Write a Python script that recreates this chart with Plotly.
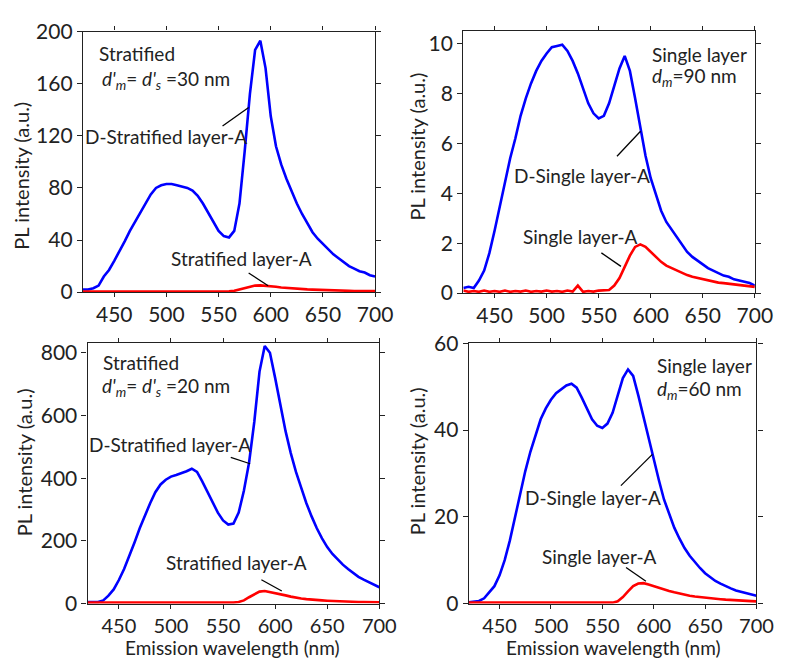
import plotly.graph_objects as go

# ---------------- data ----------------
wl = [420, 425, 430, 435, 440, 445, 450, 455, 460, 465, 470, 475, 480, 485, 490, 495,
      500, 505, 510, 515, 520, 525, 530, 535, 540, 545, 550, 555, 560, 565, 570, 575,
      580, 585, 590, 595, 600, 605, 610, 615, 620, 625, 630, 635, 640, 645, 650, 655,
      660, 665, 670, 675, 680, 685, 690, 695, 700]

# Panel (a): Stratified, d'm = d's = 30 nm
strat30_D = [2, 2, 3, 5, 12, 17, 24, 31, 39, 47, 54, 62, 69, 75, 80, 82,
             83, 83, 82, 81, 80, 78, 74, 68, 61, 54, 47, 43, 42, 47, 68, 108,
             152, 186, 193, 172, 135, 112, 98, 87, 77, 68, 60, 53, 46, 41, 37, 33,
             29, 26, 23, 20, 18, 16, 15, 13, 12]
strat30_A = [0.5, 0.5, 0.4, 0.5, 0.4, 0.5, 0.4, 0.5, 0.4, 0.5, 0.4, 0.5, 0.4, 0.5, 0.4, 0.5,
             0.4, 0.5, 0.4, 0.5, 0.4, 0.5, 0.4, 0.5, 0.4, 0.5, 0.5, 0.5, 0.6, 1.0, 2.0, 3.2,
             4.3, 5.0, 5.2, 5.0, 4.6, 4.1, 3.6, 3.2, 2.9, 2.6, 2.3, 2.1, 1.9, 1.7, 1.6, 1.4,
             1.3, 1.2, 1.1, 1.0, 0.9, 0.9, 0.8, 0.8, 0.8]

# Panel (b): Single layer, dm = 90 nm
single90_D = [0.2, 0.25, 0.2, 0.5, 0.9, 1.6, 2.5, 3.5, 4.4, 5.4, 6.2, 7.1, 7.8, 8.4, 8.9, 9.3,
              9.6, 9.85, 9.9, 9.95, 9.7, 9.3, 8.8, 8.2, 7.6, 7.2, 7.0, 7.1, 7.6, 8.3, 9.0, 9.5,
              8.9, 7.8, 6.6, 5.5, 4.6, 3.9, 3.3, 2.85, 2.55, 2.2, 1.9, 1.65, 1.45, 1.3, 1.15, 1.0,
              0.9, 0.8, 0.7, 0.65, 0.55, 0.5, 0.45, 0.4, 0.3]
single90_A = [0.1, 0.05, 0.08, 0.05, 0.1, 0.05, 0.08, 0.05, 0.1, 0.05, 0.08, 0.06, 0.1, 0.05, 0.08, 0.06,
              0.1, 0.06, 0.08, 0.05, 0.1, 0.06, 0.3, 0.05, 0.08, 0.06, 0.1, 0.1, 0.12, 0.3, 0.6, 1.05,
              1.5, 1.85, 1.95, 1.85, 1.65, 1.45, 1.25, 1.1, 1.0, 0.9, 0.8, 0.72, 0.65, 0.6, 0.55, 0.5,
              0.46, 0.42, 0.4, 0.37, 0.35, 0.32, 0.3, 0.28, 0.25]

# Panel (c): Stratified, d'm = d's = 20 nm
strat20_D = [5, 5, 5, 10, 25, 45, 75, 110, 150, 195, 240, 282, 320, 355, 380, 395,
             405, 410, 415, 422, 430, 420, 390, 355, 320, 290, 265, 252, 255, 290, 360, 450,
             580, 740, 822, 800, 720, 630, 550, 480, 420, 370, 320, 278, 240, 208, 180, 158,
             140, 124, 110, 97, 85, 76, 68, 60, 52]
strat20_A = [3, 3, 2, 3, 2, 3, 2, 3, 2, 3, 2, 3, 2, 3, 2, 3,
             2, 3, 2, 3, 2, 3, 2, 3, 3, 3, 3, 3, 3, 5, 10, 20,
             30, 38, 40, 37, 33, 29, 26, 22, 18, 16, 14, 12, 11, 10, 9, 8,
             8, 7, 6, 6, 5, 5, 4, 4, 4]

# Panel (d): Single layer, dm = 60 nm
single60_D = [0.3, 0.4, 0.6, 1.2, 2.5, 4.0, 6.5, 10.0, 14.5, 20.0, 25.5, 30.5, 35.0, 39.0, 42.5, 45.0,
              47.0, 48.5, 49.5, 50.3, 50.7, 49.8, 47.5, 45.0, 42.5, 41.0, 40.5, 41.5, 44.0, 48.0, 52.0, 54.0,
              52.5, 48.0, 43.0, 38.5, 33.5, 28.5, 24.0, 20.5, 17.5, 15.0, 12.8, 11.0, 9.5, 8.2, 7.0, 6.0,
              5.2, 4.6, 4.0, 3.5, 3.0, 2.7, 2.4, 2.1, 1.8]
single60_A = [0.2, 0.2, 0.15, 0.2, 0.15, 0.2, 0.15, 0.2, 0.15, 0.2, 0.15, 0.2, 0.15, 0.2, 0.15, 0.2,
              0.15, 0.2, 0.15, 0.2, 0.15, 0.2, 0.15, 0.2, 0.15, 0.2, 0.2, 0.2, 0.2, 0.5, 1.5, 2.8,
              4.0, 4.6, 4.7, 4.4, 4.0, 3.6, 3.2, 2.9, 2.6, 2.3, 2.0, 1.8, 1.6, 1.45, 1.3, 1.2,
              1.1, 1.0, 0.9, 0.8, 0.7, 0.65, 0.6, 0.55, 0.5]

x_ticks = [450, 500, 550, 600, 650, 700]
y_ticks = [
    [0, 40, 80, 120, 160, 200],
    [0, 2, 4, 6, 8, 10],
    [0, 200, 400, 600, 800],
    [0, 20, 40, 60],
]
y_ranges = [[0, 200], [0, 10.5], [0, 830], [0, 60]]

# ---------------- layout geometry ----------------
W, H = 787, 663
BLUE = "#0000FF"
RED = "#FF0000"
FONT = "Lato"
INK = "#222222"


def px_dom_x(a, b):
    return [a / W, b / W]


def px_dom_y(top, bottom):
    return [1 - bottom / H, 1 - top / H]


domains = [
    (px_dom_x(76.7, 375.7), px_dom_y(10, 280.7)),
    (px_dom_x(466, 764.3), px_dom_y(9.3, 281.7)),
    (px_dom_x(81.5, 380), px_dom_y(334, 604.3)),
    (px_dom_x(471.5, 766), px_dom_y(334, 604.3)),
]

series = [
    (strat30_D, strat30_A),
    (single90_D, single90_A),
    (strat20_D, strat20_A),
    (single60_D, single60_A),
]

fig = go.Figure()
for i, (dser, aser) in enumerate(series):
    sfx = "" if i == 0 else str(i + 1)
    fig.add_trace(go.Scatter(x=wl, y=dser, mode="lines", line=dict(color=BLUE, width=2.6),
                             xaxis="x" + sfx, yaxis="y" + sfx, showlegend=False))
    fig.add_trace(go.Scatter(x=wl, y=aser, mode="lines", line=dict(color=RED, width=2.6),
                             xaxis="x" + sfx, yaxis="y" + sfx, showlegend=False))

layout = dict(
    width=W, height=H,
    margin=dict(l=0, r=0, t=0, b=0),
    paper_bgcolor="white", plot_bgcolor="white",
    font=dict(family=FONT, color=INK, size=19),
    showlegend=False,
)
axis_common = dict(showline=True, linecolor=INK, linewidth=1.3, mirror="ticks",
                   ticks="outside", ticklen=5, tickcolor=INK, showgrid=False,
                   zeroline=False, tickfont=dict(family=FONT, size=21, color=INK))
for i in range(4):
    sfx = "" if i == 0 else str(i + 1)
    xd, yd = domains[i]
    xsize = 21 if i < 2 else 20
    layout["xaxis" + sfx] = dict(axis_common, domain=xd, range=[420, 700], tickvals=x_ticks,
                                 anchor="y" + sfx, ticklabelstandoff=0, ticklen=4,
                                 tickfont=dict(family=FONT, size=xsize, color=INK))
    layout["yaxis" + sfx] = dict(axis_common, domain=yd, range=y_ranges[i], tickvals=y_ticks[i],
                                 anchor="x" + sfx)
fig.update_layout(**layout)

ann = []
shapes = []


def txt(ref, x, y, s, size=19):
    ann.append(dict(xref="x" + ref, yref="y" + ref, x=x, y=y, text=s, showarrow=False,
                    xanchor="left", yanchor="middle", borderpad=0,
                    font=dict(family=FONT, size=size, color=INK)))


def seg(ref, x0, y0, x1, y1):
    shapes.append(dict(type="line", xref="x" + ref, yref="y" + ref, x0=x0, y0=y0, x1=x1, y1=y1,
                       line=dict(color="black", width=1.3)))


# panel a
txt("", 434, 183, "Stratified")
txt("", 437, 163, "<i>d'</i><sub><i>m</i></sub>= <i>d'</i><sub><i>s</i></sub> =30 nm")
txt("", 421, 119.5, "D-Stratified layer-A")
txt("", 503, 25.6, "Stratified layer-A")
seg("", 553.8, 127.6, 578.8, 141.8)
seg("", 578.8, 14.7, 597.5, 4.9)
# panel b
txt("2", 600, 9.55, "Single layer")
txt("2", 600, 8.66, "<i>d</i><sub><i>m</i></sub>=90 nm")
txt("2", 467.5, 4.69, "D-Single layer-A")
txt("2", 476, 2.26, "Single layer-A")
seg("2", 567.6, 5.48, 590.2, 6.48)
seg("2", 552.6, 1.61, 571.4, 1.07)
# panel c
txt("3", 434, 770, "Stratified")
txt("3", 433, 690, "<i>d'</i><sub><i>m</i></sub>= <i>d'</i><sub><i>s</i></sub> =20 nm")
txt("3", 420.5, 507, "D-Stratified layer-A")
txt("3", 494, 130, "Stratified layer-A")
seg("3", 557.4, 466, 576, 446)
seg("3", 586.8, 76, 606.4, 40)
# panel d
txt("4", 602, 54.9, "Single layer")
txt("4", 602, 49.3, "<i>d</i><sub><i>m</i></sub>=60 nm")
txt("4", 473.5, 24.5, "D-Single layer-A")
txt("4", 490.5, 10.9, "Single layer-A")
seg("4", 568.1, 27.2, 598.7, 34.4)
seg("4", 573.1, 8.3, 592.4, 5.15)


# axis titles (paper coords from pixel positions)
def ptitle(xpx, ypx, s, angle=0, yanchor="middle", size=20):
    ann.append(dict(xref="paper", yref="paper", x=xpx / W, y=1 - ypx / H, text=s, showarrow=False,
                    textangle=angle, xanchor="center", yanchor=yanchor, borderpad=0,
                    font=dict(family=FONT, size=size, color=INK)))


ptitle(13, 160, "PL intensity (a.u.)", -90)
ptitle(419, 129, "PL intensity (a.u.)", -90)
ptitle(16, 458, "PL intensity (a.u.)", -90)
ptitle(418, 456, "PL intensity (a.u.)", -90)
ptitle(230, 663, "Emission wavelength (nm)", yanchor="bottom", size=19)
ptitle(620, 663, "Emission wavelength (nm)", yanchor="bottom", size=19)

fig.update_layout(annotations=ann, shapes=shapes)
fig.write_html("out.html")
